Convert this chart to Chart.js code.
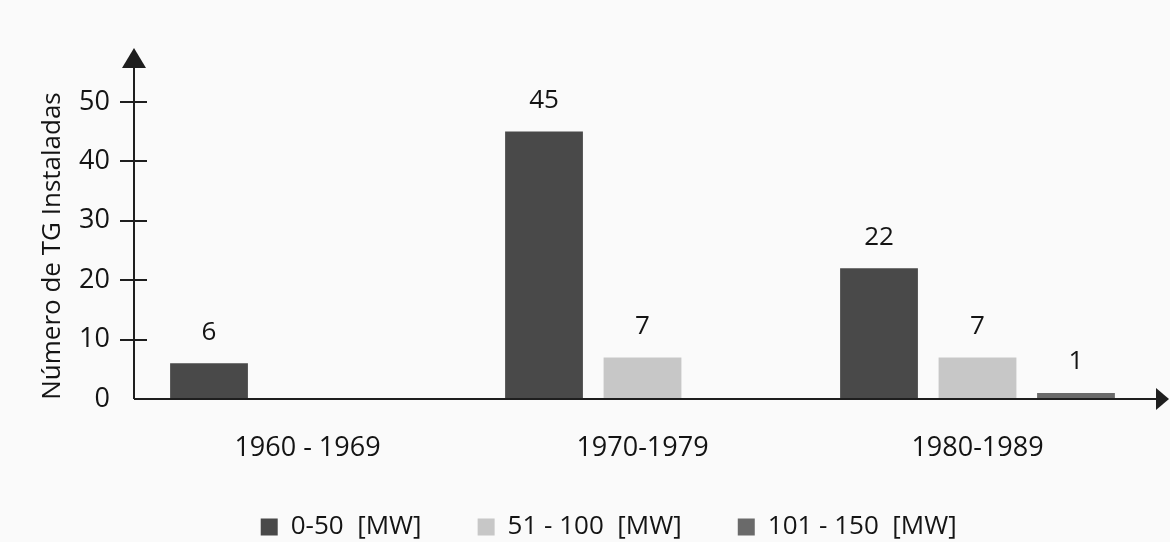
<!DOCTYPE html>
<html>
<head>
<meta charset="utf-8">
<script src="https://cdn.jsdelivr.net/npm/chart.js@4.4.1/dist/chart.umd.min.js"></script>
<style>
  html, body { margin: 0; padding: 0; background: #fafafa; }
  #wrap { width: 1170px; height: 542px; position: relative; }
</style>
</head>
<body>
<div id="wrap"><canvas id="c" width="1170" height="542"></canvas></div>
<script>
// ---- data ----
const categories = ['1960 - 1969', '1970-1979', '1980-1989'];
const seriesNames = ['0-50  [MW]', '51 - 100  [MW]', '101 - 150  [MW]'];
const series0_50 = [6, 45, 22];
const series51_100 = [null, 7, 7];
const series101_150 = [null, null, 1];
const yTicks = [0, 10, 20, 30, 40, 50];

const colors = ['#494949', '#c7c7c7', '#6a6a6a'];
const FONT = "'Open Sans', 'Noto Sans', sans-serif";
const TEXT = '#141414';
const legendGaps = [8, 8, 10]; // trailing spaces for legend spacing

const axesPlugin = {
  id: 'axesArrows',
  afterDraw(chart) {
    const ctx = chart.ctx;
    const a = chart.chartArea;
    const y = chart.scales.y;
    const ax = a.left - 6;
    ctx.save();
    ctx.strokeStyle = '#1e1e1e';
    ctx.fillStyle = '#1e1e1e';
    ctx.lineWidth = 2;
    ctx.beginPath();
    ctx.moveTo(ax, a.bottom);
    ctx.lineTo(ax, a.top - 28);
    ctx.stroke();
    ctx.beginPath();
    ctx.moveTo(ax, a.top - 45);
    ctx.lineTo(ax - 12, a.top - 25);
    ctx.lineTo(ax + 12, a.top - 25);
    ctx.closePath();
    ctx.fill();
    ctx.beginPath();
    ctx.moveTo(ax, a.bottom);
    ctx.lineTo(chart.width - 12, a.bottom);
    ctx.stroke();
    ctx.beginPath();
    ctx.moveTo(chart.width - 1, a.bottom);
    ctx.lineTo(chart.width - 14, a.bottom - 11);
    ctx.lineTo(chart.width - 14, a.bottom + 11);
    ctx.closePath();
    ctx.fill();
    yTicks.forEach(v => {
      if (v === 0) return;
      const py = Math.round(y.getPixelForValue(v));
      ctx.beginPath();
      ctx.moveTo(ax - 14, py);
      ctx.lineTo(ax + 13, py);
      ctx.stroke();
    });
    ctx.restore();
  }
};

const labelPlugin = {
  id: 'valueLabels',
  afterDatasetsDraw(chart) {
    const ctx = chart.ctx;
    ctx.save();
    ctx.font = '26px ' + FONT;
    ctx.fillStyle = TEXT;
    ctx.textAlign = 'center';
    ctx.textBaseline = 'middle';
    chart.data.datasets.forEach((ds, i) => {
      const meta = chart.getDatasetMeta(i);
      meta.data.forEach((el, j) => {
        const v = ds.data[j];
        if (v === null || v === undefined) return;
        ctx.fillText(String(v), el.x, el.y - 31);
      });
    });
    ctx.restore();
  }
};

new Chart(document.getElementById('c'), {
  type: 'bar',
  data: {
    labels: categories,
    datasets: [
      { label: seriesNames[0], data: series0_50, backgroundColor: colors[0] },
      { label: seriesNames[1], data: series51_100, backgroundColor: colors[1] },
      { label: seriesNames[2], data: series101_150, backgroundColor: colors[2] }
    ]
  },
  options: {
    responsive: false,
    animation: false,
    devicePixelRatio: 1,
    layout: { padding: { top: 93, right: 25, bottom: 0, left: 0 } },
    datasets: { bar: { barPercentage: 0.79, categoryPercentage: 0.882 } },
    scales: {
      x: {
        grid: { display: false, drawTicks: false },
        border: { display: false },
        ticks: { color: TEXT, font: { family: FONT, size: 27 }, padding: 33, maxRotation: 0 },
        afterFit: s => { s.height = 113; }
      },
      y: {
        min: 0,
        max: 51.5,
        grid: { display: false, drawTicks: false },
        border: { display: false },
        ticks: { color: TEXT, font: { family: FONT, size: 27 }, padding: 30 },
        afterBuildTicks: s => { s.ticks = yTicks.map(v => ({ value: v })); },
        title: {
          display: true,
          text: 'Número de TG Instaladas',
          color: TEXT,
          font: { family: FONT, size: 26 },
          padding: { top: 37, bottom: 0 }
        },
        afterFit: s => { s.width = 140; }
      }
    },
    plugins: {
      tooltip: { enabled: false },
      legend: {
        position: 'bottom',
        fullSize: false,
        maxHeight: 30,
        labels: {
          color: TEXT,
          font: { family: FONT, size: 26, lineHeight: 1 },
          boxWidth: 17,
          boxHeight: 17,
          padding: 2,
          generateLabels: chart => {
            const items = Chart.defaults.plugins.legend.labels.generateLabels(chart);
            items.forEach((it, i) => {
              it.text = it.text + ' '.repeat(legendGaps[i]);
              it.lineWidth = 0;
            });
            return items;
          }
        }
      }
    }
  },
  plugins: [axesPlugin, labelPlugin]
});
</script>
</body>
</html>
